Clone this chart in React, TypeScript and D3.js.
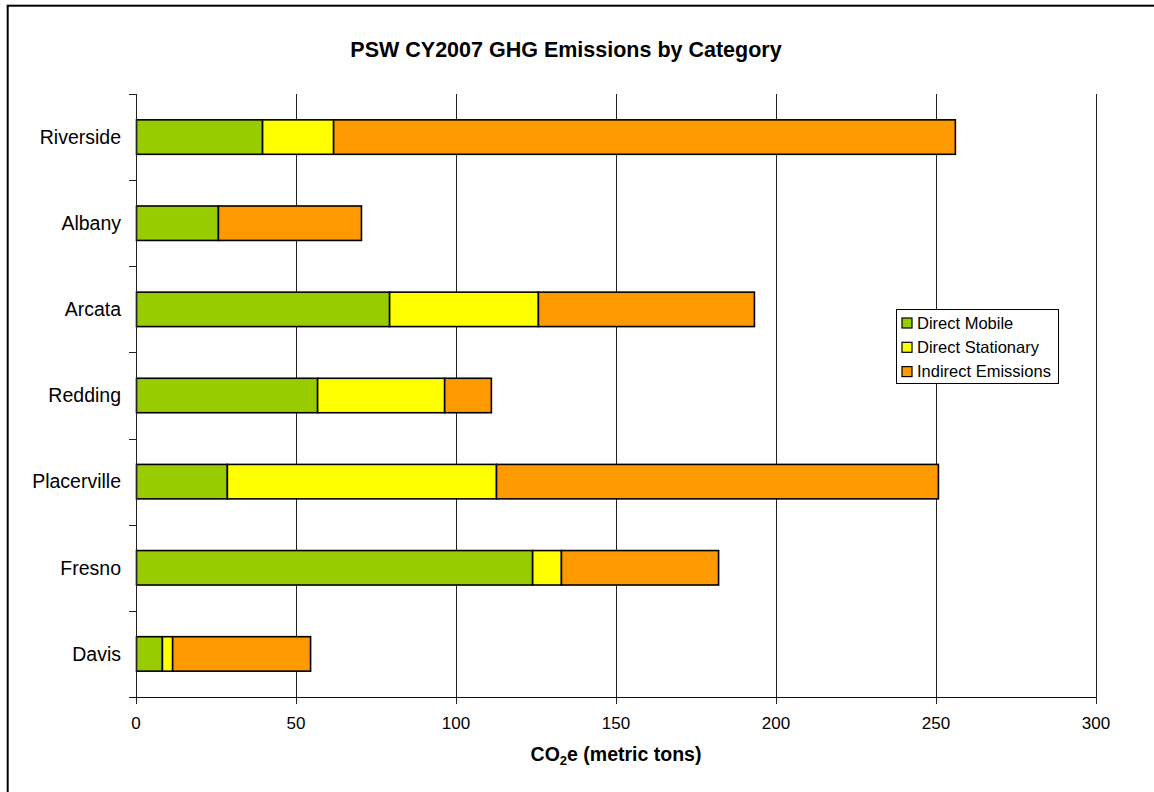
import React from "react";
import * as d3 from "d3";

// Emissions by site, top to bottom as listed
const sites = ["Riverside", "Albany", "Arcata", "Redding", "Placerville", "Fresno", "Davis"];
const directMobile = [39.4, 25.6, 79.1, 56.6, 28.4, 123.8, 8.1];
const directStationary = [22.2, 0, 46.5, 39.7, 84.1, 9.0, 3.2];
const indirectEmissions = [194.3, 44.7, 67.5, 14.6, 138.1, 49.1, 43.1];

const seriesNames = ["Direct Mobile", "Direct Stationary", "Indirect Emissions"];
const seriesColors = ["#99CC00", "#FFFF00", "#FF9900"];
const xTicks = [0, 50, 100, 150, 200, 250, 300];

const W = 1154;
const H = 792;
const plot = { left: 136, right: 1096, top: 94, bottom: 697 };
const FONT = "Liberation Sans, Arial, Helvetica, sans-serif";

// snap a 1px line to the pixel grid
const crisp = (v: number) => Math.round(v) + 0.5;

export default function App() {
  const rows = sites.map((s, i) => ({
    site: s,
    dm: directMobile[i],
    ds: directStationary[i],
    ie: indirectEmissions[i],
  }));
  const keys = ["dm", "ds", "ie"];
  const stacked = d3.stack<any>().keys(keys)(rows);

  const x = d3.scaleLinear().domain([0, 300]).range([plot.left, plot.right]);
  const y = d3.scaleBand().domain(sites).range([plot.top, plot.bottom]).padding(0);
  const step = y.step();
  const barH = step * 0.4;

  const boundaries = d3.range(sites.length + 1).map((i) => plot.top + i * step);
  const axisX = crisp(plot.left);
  const axisY = crisp(plot.bottom);

  return (
    <svg
      width={W}
      height={H}
      style={{ position: "absolute", left: 0, top: 0, background: "#fff" }}
      fontFamily={FONT}
    >
      <rect x={0} y={0} width={W} height={H} fill="#fff" />
      {/* outer frame */}
      <rect x={7.7} y={5.7} width={W + 20} height={H + 20} fill="none" stroke="#000" strokeWidth={2} />

      <text x={566} y={57} textAnchor="middle" fontSize={21.5} fontWeight="bold" fill="#000">
        PSW CY2007 GHG Emissions by Category
      </text>

      {/* vertical gridlines */}
      {xTicks.slice(1).map((t) => (
        <line key={t} x1={crisp(x(t))} x2={crisp(x(t))} y1={plot.top} y2={axisY} stroke="#222" strokeWidth={1} />
      ))}

      {/* bars */}
      {stacked.map((layer, si) =>
        layer.map((d: any, i: number) => {
          const w = x(d[1]) - x(d[0]);
          if (w <= 0) return null;
          const yy = (y(d.data.site) as number) + (step - barH) / 2;
          return (
            <rect
              key={`${si}-${i}`}
              x={x(d[0]) + 0.5}
              y={yy}
              width={w}
              height={barH}
              fill={seriesColors[si]}
              stroke="#000"
              strokeWidth={1.6}
            />
          );
        })
      )}

      {/* y axis */}
      <line x1={axisX} x2={axisX} y1={plot.top} y2={axisY} stroke="#222" strokeWidth={1} />
      {boundaries.map((b, i) => (
        <line key={i} x1={plot.left - 7} x2={axisX} y1={crisp(b)} y2={crisp(b)} stroke="#222" strokeWidth={1} />
      ))}
      {sites.map((s) => (
        <text
          key={s}
          x={121}
          y={(y(s) as number) + step / 2}
          dy="0.35em"
          textAnchor="end"
          fontSize={19.5}
          fill="#000"
        >
          {s}
        </text>
      ))}

      {/* x axis */}
      <line x1={plot.left - 7} x2={crisp(plot.right)} y1={axisY} y2={axisY} stroke="#111" strokeWidth={1.2} />
      {xTicks.map((t) => (
        <g key={t}>
          <line x1={crisp(x(t))} x2={crisp(x(t))} y1={axisY} y2={plot.bottom + 7} stroke="#222" strokeWidth={1} />
          <text x={x(t)} y={729} textAnchor="middle" fontSize={17} fill="#000">
            {t}
          </text>
        </g>
      ))}
      <text x={(plot.left + plot.right) / 2} y={761} textAnchor="middle" fontSize={19.5} fontWeight="bold" fill="#000">
        CO<tspan fontSize={13} dy={4}>2</tspan>
        <tspan dy={-4}>e (metric tons)</tspan>
      </text>

      {/* legend */}
      <rect x={896.5} y={309.5} width={162} height={74} fill="#fff" stroke="#000" strokeWidth={1} />
      {seriesNames.map((n, i) => (
        <g key={n}>
          <rect x={902} y={318 + i * 24.3} width={10} height={10} fill={seriesColors[i]} stroke="#000" strokeWidth={1.2} />
          <text x={917} y={328.5 + i * 24.3} fontSize={16.5} fill="#000">
            {n}
          </text>
        </g>
      ))}
    </svg>
  );
}
